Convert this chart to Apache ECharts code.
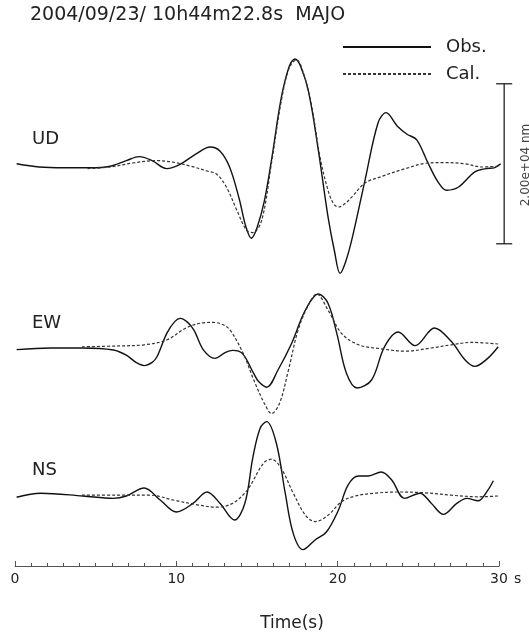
<!DOCTYPE html>
<html lang="en">
  <head>
    <meta charset="UTF-8" />
    <title>MAJO waveforms</title>
    <style>
      html, body { margin: 0; padding: 0; background: #fff; }
      #container { width: 529px; height: 637px; }
    </style>
    <script src="https://cdn.jsdelivr.net/npm/echarts@6.0.0/dist/echarts.min.js"></script>
  </head>
  <body>
    <div id="container"></div>
    <script>
      // [time (s), displacement (1e3 nm)]
      const udObs = [[0.1, 0.4], [1.5, 0.0], [3, -0.1], [4.7, -0.1], [5.9, 0.1], [6.9, 0.8], [7.7, 1.3], [8.5, 0.8], [9.4, -0.2], [10.2, 0.3], [11.2, 1.6], [12.1, 2.5], [12.7, 2.0], [13.3, 0.0], [13.9, -4.0], [14.3, -7.4], [14.65, -8.9], [15.0, -7.6], [15.45, -4.3], [15.9, 0.9], [16.5, 8.6], [17.0, 12.6], [17.35, 13.5], [17.7, 12.6], [18.2, 9.4], [18.8, 2.1], [19.4, -6.2], [19.8, -10.5], [20.15, -13.3], [20.5, -11.8], [20.9, -8.9], [21.7, -1.6], [22.5, 5.5], [23.0, 6.8], [23.7, 5.1], [24.3, 4.1], [24.9, 3.4], [25.6, 0.5], [26.2, -1.8], [26.75, -2.9], [27.5, -2.5], [28.5, -0.6], [29.2, -0.2], [29.7, -0.1], [30.1, 0.4]]
      const udCal = [[4.5, -0.2], [5.9, 0.0], [7.3, 0.5], [8.8, 0.8], [9.8, 0.6], [10.9, 0.1], [11.9, -0.5], [12.5, -0.9], [13.1, -2.5], [13.75, -5.4], [14.35, -7.9], [14.75, -8.2], [15.3, -6.6], [15.9, 0.5], [16.5, 8.2], [17.0, 12.4], [17.45, 13.4], [17.9, 11.6], [18.4, 7.5], [18.9, 1.3], [19.4, -2.9], [19.75, -4.6], [20.05, -5.0], [20.5, -4.5], [20.9, -3.7], [21.7, -2.0], [22.7, -1.2], [24.2, -0.2], [25.6, 0.5], [26.6, 0.55], [27.9, 0.4], [28.9, 0.0], [29.95, 0.1]]
      const ewObs = [[0.1, -0.2], [2.2, 0.0], [4.2, 0.0], [6.1, -0.25], [6.9, -0.9], [7.5, -1.8], [8.0, -2.2], [8.5, -1.8], [8.8, -1.1], [9.4, 1.8], [9.9, 3.3], [10.25, 3.7], [10.7, 3.2], [11.1, 2.2], [11.7, -0.3], [12.4, -1.3], [13.0, -0.6], [13.5, -0.3], [14.1, -0.7], [14.8, -3.2], [15.1, -4.2], [15.6, -4.9], [16.3, -2.75], [17.15, 0.6], [18.0, 4.75], [18.8, 6.75], [19.4, 5.6], [19.95, 1.8], [20.55, -3.2], [21.2, -5.0], [22.1, -4.0], [22.9, 0.15], [23.75, 2.0], [24.8, 0.3], [26.0, 2.5], [27.05, 0.8], [27.9, -1.5], [28.5, -2.3], [29.3, -1.3], [29.95, 0.15]]
      const ewCal = [[4.15, 0.15], [6.3, 0.25], [8.0, 0.4], [9.4, 1.0], [10.6, 2.5], [11.5, 3.1], [12.3, 3.2], [12.9, 2.9], [13.35, 2.2], [14.15, -0.7], [14.8, -4.0], [15.5, -7.1], [15.9, -8.2], [16.4, -6.9], [16.95, -2.75], [17.55, 2.25], [18.2, 5.4], [18.7, 6.75], [19.4, 4.75], [20.25, 1.8], [21.3, 0.4], [22.7, -0.1], [24.2, -0.4], [25.8, 0.0], [27.05, 0.4], [28.3, 0.7], [29.95, 0.5]]
      const nsObs = [[0.1, -0.15], [1.6, 0.35], [4.2, 0.0], [6.1, -0.3], [6.9, 0.0], [8.0, 1.0], [9.0, -0.5], [10.0, -2.0], [11.05, -0.9], [11.9, 0.5], [12.7, -0.9], [13.6, -3.0], [14.25, -0.9], [14.75, 4.9], [15.2, 8.5], [15.6, 9.3], [16.2, 6.6], [16.75, 0.35], [17.25, -4.7], [17.85, -6.7], [18.6, -5.5], [19.3, -4.5], [20.05, -1.75], [20.65, 1.4], [21.3, 2.5], [21.9, 2.5], [22.7, 3.0], [23.35, 2.0], [24.15, -0.3], [25.1, 0.35], [25.8, -0.9], [26.55, -2.3], [27.4, -0.9], [28.0, -0.3], [28.7, -0.6], [29.25, 0.55], [29.65, 1.9]]
      const nsCal = [[4.15, 0.1], [6.3, 0.1], [8.4, 0.1], [9.8, -0.5], [11.3, -1.1], [12.5, -1.4], [13.5, -0.9], [14.4, 0.75], [15.4, 4.1], [15.9, 4.6], [16.5, 3.45], [17.25, 0.35], [18.0, -2.4], [18.6, -3.2], [19.4, -2.4], [20.25, -0.7], [21.1, 0.0], [22.3, 0.35], [23.75, 0.5], [25.4, 0.4], [27.05, 0.1], [28.7, -0.1], [29.95, 0.0]]

      const components = ['UD', 'EW', 'NS']
      const scaleBar = [[30.32, 10.4, -9.6]] // 2.00e+04 nm: time, top, bottom
      const timeTicks = [0, 10, 20, 30]

      const font = 'DejaVu Sans'
      const chart = echarts.init(document.getElementById('container'))

      // one grid per component, same amplitude scale (8 px per 1e3 nm)
      const tops = [47, 228, 376]
      const grids = tops.map((t) => ({ left: 15, right: 30, top: t, height: 240 }))
      grids.push({ left: 15, right: 30, top: 40, bottom: 71 })

      const xAxes = tops.map((t, i) => ({ gridIndex: i, type: 'value', min: 0, max: 30, show: false }))
      xAxes.push({
        gridIndex: 3,
        type: 'value',
        min: timeTicks[0],
        max: timeTicks[timeTicks.length - 1],
        interval: 10,
        axisLine: { onZero: false, lineStyle: { color: '#555', width: 1 } },
        axisTick: { inside: true, length: 5, lineStyle: { color: '#555' } },
        minorTick: { show: true, splitNumber: 10, length: 3, lineStyle: { color: '#555' } },
        splitLine: { show: false },
        axisLabel: { margin: 6, fontSize: 14, fontFamily: font, color: '#222' },
        name: 's',
        nameLocation: 'end',
        nameGap: 15,
        nameTextStyle: { fontSize: 14, fontFamily: font, color: '#222', verticalAlign: 'top', padding: [6, 0, 0, 0] },
      })
      const yAxes = [0, 1, 2, 3].map((i) => ({ gridIndex: i, type: 'value', min: -15, max: 15, show: false }))

      const obsStyle = { color: '#111', width: 1.4 }
      const calStyle = { color: '#333', width: 1.2, type: [3, 2] }
      function trace(name, data, idx, style) {
        return {
          name: name,
          type: 'line',
          xAxisIndex: idx,
          yAxisIndex: idx,
          data: data,
          smooth: 0.35,
          symbol: 'none',
          clip: false,
          lineStyle: style,
          itemStyle: { color: style.color },
        }
      }

      const series = [
        trace('Obs.', udObs, 0, obsStyle),
        trace('Cal.', udCal, 0, calStyle),
        trace('Obs.', ewObs, 1, obsStyle),
        trace('Cal.', ewCal, 1, calStyle),
        trace('Obs.', nsObs, 2, obsStyle),
        trace('Cal.', nsCal, 2, calStyle),
        {
          type: 'custom',
          xAxisIndex: 0,
          yAxisIndex: 0,
          data: scaleBar,
          silent: true,
          renderItem: function (params, api) {
            const a = api.coord([api.value(0), api.value(1)])
            const b = api.coord([api.value(0), api.value(2)])
            const st = { stroke: '#111', lineWidth: 1.2 }
            return {
              type: 'group',
              children: [
                { type: 'line', shape: { x1: a[0], y1: a[1], x2: b[0], y2: b[1] }, style: st },
                { type: 'line', shape: { x1: a[0] - 8, y1: a[1], x2: a[0] + 8, y2: a[1] }, style: st },
                { type: 'line', shape: { x1: b[0] - 8, y1: b[1], x2: b[0] + 8, y2: b[1] }, style: st },
              ],
            }
          },
        },
      ]

      const labelY = [139, 323, 470]
      const graphic = components.map((c, i) => ({
        type: 'text',
        x: 32,
        y: labelY[i],
        style: { text: c, font: '18px ' + font, fill: '#222', textVerticalAlign: 'middle' },
      }))
      graphic.push(
        {
          type: 'text',
          x: 30,
          y: 15,
          style: { text: '2004/09/23/ 10h44m22.8s  MAJO', font: '19px ' + font, fill: '#222', textVerticalAlign: 'middle' },
        },
        {
          type: 'text',
          x: 292,
          y: 624,
          style: { text: 'Time(s)', font: '17px ' + font, fill: '#222', textAlign: 'center', textVerticalAlign: 'middle' },
        },
        {
          type: 'text',
          x: 526,
          y: 165,
          rotation: Math.PI / 2,
          style: { text: '2.00e+04 nm', font: '12px ' + font, fill: '#444', textAlign: 'center', textVerticalAlign: 'middle' },
        }
      )

      chart.setOption({
        animation: false,
        backgroundColor: '#fff',
        grid: grids,
        xAxis: xAxes,
        yAxis: yAxes,
        legend: {
          data: ['Obs.', 'Cal.'],
          orient: 'vertical',
          left: 342,
          top: 38,
          padding: 0,
          itemWidth: 88,
          itemHeight: 14,
          itemGap: 9,
          itemStyle: { opacity: 0 },
          textStyle: { fontSize: 18, fontFamily: font, color: '#222', padding: [0, 0, 0, 10] },
        },
        series: series,
        graphic: graphic,
      })
    </script>
  </body>
</html>
